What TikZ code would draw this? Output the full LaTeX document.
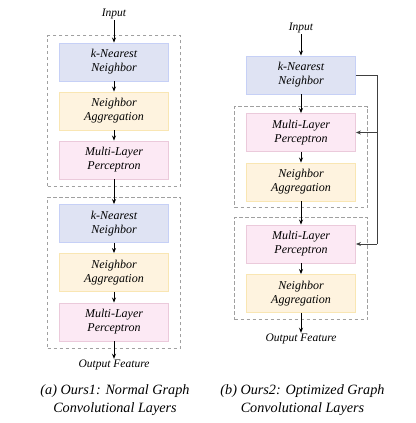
\documentclass[tikz,border=0pt]{standalone}
\usepackage{fontspec}
\setmainfont{Liberation Serif}
\usetikzlibrary{arrows.meta,positioning,fit}
\definecolor{KnnFill}{HTML}{DFE3F3}
\definecolor{KnnLine}{HTML}{C6D0F6}
\definecolor{AggFill}{HTML}{FEF3DF}
\definecolor{AggLine}{HTML}{F9E6B3}
\definecolor{MlpFill}{HTML}{FCE9F4}
\definecolor{MlpLine}{HTML}{EBCADB}
\definecolor{GroupLine}{HTML}{A0A0A0}
\tikzset{>={Stealth[length=5pt,width=4pt]},
 layer/.style={draw,line width=0.9pt,minimum width=109pt,minimum height=38pt,
  align=center,inner sep=0pt,font=\fontsize{12}{14}\selectfont\itshape},
 knn/.style={layer,draw=KnnLine,fill=KnnFill},
 agg/.style={layer,draw=AggLine,fill=AggFill},
 mlp/.style={layer,draw=MlpLine,fill=MlpFill},
 group/.style={draw=GroupLine,dash pattern=on 3.5pt off 2.5pt,line width=1pt,
  inner xsep=11.5pt,inner ysep=7pt},
 label/.style={font=\fontsize{11.5}{13}\selectfont\itshape,inner sep=1pt},
 caption/.style={font=\fontsize{14.2}{18}\selectfont\itshape,align=center},
 flow/.style={->,line width=0.8pt}}
\begin{document}
\begin{tikzpicture}[x=1pt,y=-1pt]
\useasboundingbox (0,0) rectangle (415,423);
% (a) normal layers
\node[label] (inA) at (114,14) {Input};
\node[knn] (knnA1) at (114,62) {k-Nearest\\Neighbor};
\node[agg] (aggA1) at (114,111) {Neighbor\\Aggregation};
\node[mlp] (mlpA1) at (114,160) {Multi-Layer\\Perceptron};
\node[knn] (knnA2) at (114,223.5) {k-Nearest\\Neighbor};
\node[agg] (aggA2) at (114,272.5) {Neighbor\\Aggregation};
\node[mlp] (mlpA2) at (114,322) {Multi-Layer\\Perceptron};
\node[label] (outA) at (114,365) {Output Feature};
\node[group,fit=(knnA1)(mlpA1)] (grpA1) {};
\node[group,fit=(knnA2)(mlpA2)] (grpA2) {};
\foreach \a/\b in {inA/knnA1,knnA1/aggA1,aggA1/mlpA1,mlpA1/knnA2,knnA2/aggA2,aggA2/mlpA2,mlpA2/outA}
 \draw[flow] (\a) -- (\b);
% (b) optimized layers
\node[label] (inB) at (301,28) {Input};
\node[knn] (knnB) at (301,75) {k-Nearest\\Neighbor};
\node[mlp] (mlpB1) at (301,132.5) {Multi-Layer\\Perceptron};
\node[agg] (aggB1) at (301,182) {Neighbor\\Aggregation};
\node[mlp] (mlpB2) at (301,244) {Multi-Layer\\Perceptron};
\node[agg] (aggB2) at (301,293.5) {Neighbor\\Aggregation};
\node[group,inner ysep=6.5pt,fit=(mlpB1)(aggB1)] (grpB1) {};
\node[group,fit=(mlpB2)(aggB2)] (grpB2) {};
\node[label] (outB) at (301,339) {Output Feature};
\foreach \a/\b in {inB/knnB,knnB/mlpB1,mlpB1/aggB1,aggB1/mlpB2,mlpB2/aggB2,aggB2/outB}
 \draw[flow] (\a) -- (\b);
\coordinate (skip) at (377,75);
\draw[line width=1pt,black!75] (knnB.east) -- (skip) -- (skip |- mlpB2.east);
\draw[flow,black!75,line width=1pt] (skip |- mlpB1.east) -- (mlpB1.east);
\draw[flow,black!75,line width=1pt] (skip |- mlpB2.east) -- (mlpB2.east);
% captions
\node[caption] (capA) at (115,400) {(a) Ours1: Normal Graph\\Convolutional Layers};
\node[caption] (capB) at (302.5,400) {(b) Ours2: Optimized Graph\\Convolutional Layers};
\end{tikzpicture}
\end{document}
